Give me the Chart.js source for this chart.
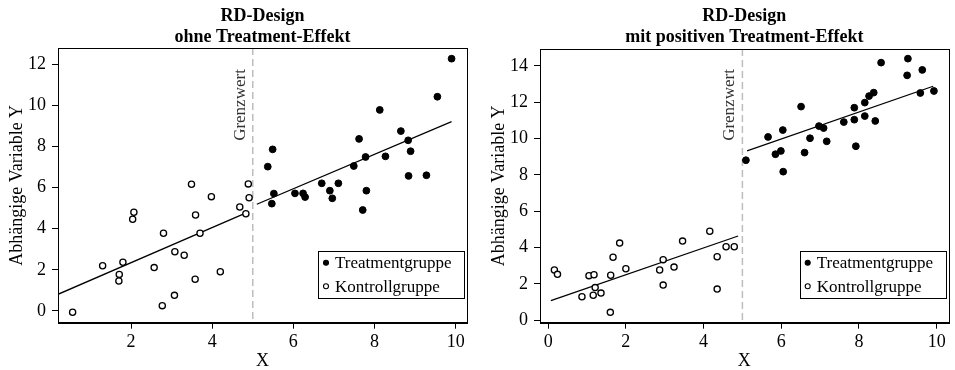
<!DOCTYPE html>
<html>
<head>
<meta charset="utf-8">
<script src="https://cdn.jsdelivr.net/npm/chart.js@4/dist/chart.umd.min.js"></script>
<style>
  html, body { margin: 0; padding: 0; background: #fff; }
  #wrap { position: relative; width: 955px; height: 370px; }
  canvas { position: absolute; top: 0; }
</style>
</head>
<body>
<div id="wrap">
  <canvas id="c1" width="477" height="370" style="left:0px"></canvas>
  <canvas id="c2" width="478" height="370" style="left:477px"></canvas>
</div>
<script>
// ---------- data ----------
const cutoff = 5;
const legendLabels = ['Treatmentgruppe', 'Kontrollgruppe'];
const axisTitleX = 'X';
const axisTitleY = 'Abhängige Variable Y';
const cutoffLabel = 'Grenzwert';

// Left panel: RD-Design ohne Treatment-Effekt
const leftTitle = ['RD-Design', 'ohne Treatment-Effekt'];
const leftControlX = [0.56,1.30,1.71,1.70,1.80,2.04,2.07,2.57,2.80,2.77,3.08,3.07,3.31,3.49,3.59,3.58,3.70,3.98,4.20,4.68,4.89,4.91,4.83];
const leftControlY = [-0.06,2.20,1.78,1.46,2.37,4.46,4.80,2.11,3.78,0.26,2.88,0.76,2.71,6.16,4.67,1.54,3.78,5.56,1.91,5.06,6.18,5.51,4.73];
const leftTreatX = [9.90,9.55,8.13,8.65,7.62,8.83,8.89,8.27,7.78,7.49,5.49,5.37,8.84,9.28,6.70,7.11,6.90,7.80,5.52,5.47,6.04,6.24,6.29,6.96,7.71];
const leftTreatY = [12.27,10.42,9.78,8.75,8.37,8.30,7.77,7.52,7.49,7.05,7.86,7.02,6.57,6.60,6.21,6.21,5.85,5.85,5.71,5.22,5.72,5.72,5.54,5.48,4.91];
const leftControlFitX = [0.20, 4.85];
const leftControlFitY = [0.81, 4.78];
const leftTreatFitX = [5.10, 9.90];
const leftTreatFitY = [5.19, 9.21];
const leftXRange = [0.20, 10.28];
const leftYRange = [-0.57, 12.79];
const leftXTicks = [2, 4, 6, 8, 10];
const leftYTicks = [0, 2, 4, 6, 8, 10, 12];

// Right panel: RD-Design mit positiven Treatment-Effekt
const rightTitle = ['RD-Design', 'mit positiven Treatment-Effekt'];
const rightControlX = [0.16,0.24,0.87,1.05,1.18,1.21,1.16,1.36,1.60,1.61,1.67,1.84,2.00,2.87,2.96,2.96,3.24,3.46,4.16,4.35,4.35,4.58,4.79];
const rightControlY = [2.77,2.53,1.30,2.46,2.51,1.80,1.38,1.50,0.44,2.48,3.47,4.25,2.84,2.77,3.34,1.94,2.93,4.36,4.90,3.50,1.72,4.05,4.05];
const rightTreatX = [5.09,5.66,5.85,5.99,6.04,6.05,6.51,6.60,6.74,6.97,7.09,7.17,7.61,7.88,7.88,7.92,8.15,8.15,8.26,8.38,8.42,8.57,9.24,9.26,9.58,9.63,9.93];
const rightTreatY = [8.81,10.09,9.14,9.32,10.47,8.18,11.76,9.23,10.02,10.69,10.58,9.85,10.91,11.70,11.04,9.58,11.98,11.24,12.34,12.53,10.97,14.18,13.48,14.40,12.51,13.78,12.62];
const rightControlFitX = [0.07, 4.89];
const rightControlFitY = [1.08, 4.64];
const rightTreatFitX = [5.12, 9.91];
const rightTreatFitY = [9.33, 12.88];
const rightXRange = [-0.21, 10.31];
const rightYRange = [-0.13, 14.93];
const rightXTicks = [0, 2, 4, 6, 8, 10];
const rightYTicks = [0, 2, 4, 6, 8, 10, 12, 14];

// ---------- helpers ----------
const FONT = '"Liberation Serif", "Times New Roman", serif';
const zip = (xs, ys) => xs.map((x, i) => ({ x: x, y: ys[i] }));

const decor = {
  id: 'decor',
  beforeDatasetsDraw(chart) {
    const { ctx, chartArea: a, scales: { x } } = chart;
    const px = x.getPixelForValue(cutoff);
    ctx.save();
    ctx.strokeStyle = '#bdbdbd';
    ctx.lineWidth = 1.5;
    ctx.setLineDash([7, 4]);
    ctx.beginPath();
    ctx.moveTo(px, a.top);
    ctx.lineTo(px, a.bottom);
    ctx.stroke();
    ctx.restore();

    ctx.save();
    ctx.translate(px - 8, 105);
    ctx.rotate(-Math.PI / 2);
    ctx.font = '17px ' + FONT;
    ctx.fillStyle = '#333';
    ctx.textAlign = 'center';
    ctx.textBaseline = 'alphabetic';
    ctx.fillText(cutoffLabel, 0, 0);
    ctx.restore();
  },
  afterDraw(chart, args, opts) {
    const { ctx, chartArea: a } = chart;
    const cx = (a.left + a.right) / 2;
    ctx.save();
    // box
    ctx.strokeStyle = '#000';
    ctx.lineWidth = 1;
    ctx.strokeRect(Math.round(a.left) + 0.5, Math.round(a.top) + 0.5, Math.round(a.right - a.left), Math.round(a.bottom - a.top));
    // titles
    ctx.fillStyle = '#000';
    ctx.textAlign = 'center';
    ctx.textBaseline = 'alphabetic';
    ctx.font = 'bold 18px ' + FONT;
    ctx.fillText(opts.title[0], cx, 20.5);
    ctx.fillText(opts.title[1], cx, 42);
    // axis titles
    ctx.font = '18px ' + FONT;
    ctx.fillText(axisTitleX, cx, 366);
    ctx.save();
    ctx.translate(a.left - 36.5, (a.top + a.bottom) / 2);
    ctx.rotate(-Math.PI / 2);
    ctx.fillText(axisTitleY, 0, 0);
    ctx.restore();
    // legend
    const w = 146, h = 46.5;
    const right = a.right - 3, bottom = a.bottom - 25.5;
    const lx = right - w, ty = bottom - h;
    ctx.fillStyle = '#fff';
    ctx.fillRect(lx, ty, w, h);
    ctx.strokeStyle = '#000';
    ctx.lineWidth = 1;
    ctx.strokeRect(Math.round(lx) + 0.5, Math.round(ty) + 0.5, Math.round(w), Math.round(h));
    const ds = chart.data.datasets.filter(d => d.label);
    ds.forEach((d, i) => {
      const yy = ty + 12 + i * 23.5;
      ctx.beginPath();
      ctx.arc(lx + 8, yy, 2.5, 0, Math.PI * 2);
      ctx.fillStyle = d.backgroundColor;
      ctx.fill();
      ctx.lineWidth = 1.1;
      ctx.strokeStyle = '#000';
      ctx.stroke();
      ctx.fillStyle = '#000';
      ctx.textAlign = 'left';
      ctx.textBaseline = 'middle';
      ctx.font = '17px ' + FONT;
      ctx.fillText(d.label, lx + 17, yy + 1);
    });
    ctx.restore();
  }
};

function makeChart(id, cfg) {
  const tickFont = { family: FONT, size: 18 };
  return new Chart(document.getElementById(id), {
    type: 'scatter',
    data: {
      datasets: [
        { label: legendLabels[0], data: zip(cfg.tx, cfg.ty), backgroundColor: '#000', borderColor: '#000', pointRadius: 3.4, pointBorderWidth: 1, pointHoverRadius: 3.4 },
        { label: legendLabels[1], data: zip(cfg.cx, cfg.cy), backgroundColor: '#fff', borderColor: '#000', pointRadius: 3.1, pointBorderWidth: 1.3, pointHoverRadius: 3.1 },
        { data: zip(cfg.cfx, cfg.cfy), showLine: true, borderColor: '#000', borderWidth: 1.3, pointRadius: 0, fill: false },
        { data: zip(cfg.tfx, cfg.tfy), showLine: true, borderColor: '#000', borderWidth: 1.3, pointRadius: 0, fill: false }
      ]
    },
    options: {
      responsive: false,
      animation: false,
      devicePixelRatio: 1,
      layout: { padding: { left: 0, top: cfg.top, right: cfg.right, bottom: 0 } },
      plugins: {
        legend: { display: false },
        tooltip: { enabled: false },
        decor: { title: cfg.title }
      },
      scales: {
        x: {
          type: 'linear', min: cfg.xr[0], max: cfg.xr[1],
          afterBuildTicks: s => { s.ticks = cfg.xt.map(v => ({ value: v })); },
          afterFit: s => { s.height = 47.3; },
          grid: { display: true, drawOnChartArea: false, drawTicks: true, tickLength: 6, color: '#000', lineWidth: 1 },
          border: { display: true, color: '#000', width: 1 },
          ticks: { font: tickFont, color: '#000', padding: 3, maxRotation: 0, autoSkip: false }
        },
        y: {
          type: 'linear', min: cfg.yr[0], max: cfg.yr[1],
          afterBuildTicks: s => { s.ticks = cfg.yt.map(v => ({ value: v })); },
          afterFit: s => { s.width = cfg.left; },
          grid: { display: true, drawOnChartArea: false, drawTicks: true, tickLength: 6, color: '#000', lineWidth: 1 },
          border: { display: true, color: '#000', width: 1 },
          ticks: { font: tickFont, color: '#000', padding: 6, autoSkip: false }
        }
      }
    },
    plugins: [decor]
  });
}

makeChart('c1', {
  title: leftTitle, tx: leftTreatX, ty: leftTreatY, cx: leftControlX, cy: leftControlY,
  cfx: leftControlFitX, cfy: leftControlFitY, tfx: leftTreatFitX, tfy: leftTreatFitY,
  xr: leftXRange, yr: leftYRange, xt: leftXTicks, yt: leftYTicks,
  left: 58, top: 48, right: 10
});
makeChart('c2', {
  title: rightTitle, tx: rightTreatX, ty: rightTreatY, cx: rightControlX, cy: rightControlY,
  cfx: rightControlFitX, cfy: rightControlFitY, tfx: rightTreatFitX, tfy: rightTreatFitY,
  xr: rightXRange, yr: rightYRange, xt: rightXTicks, yt: rightYTicks,
  left: 63, top: 49, right: 6.3
});
</script>
</body>
</html>
